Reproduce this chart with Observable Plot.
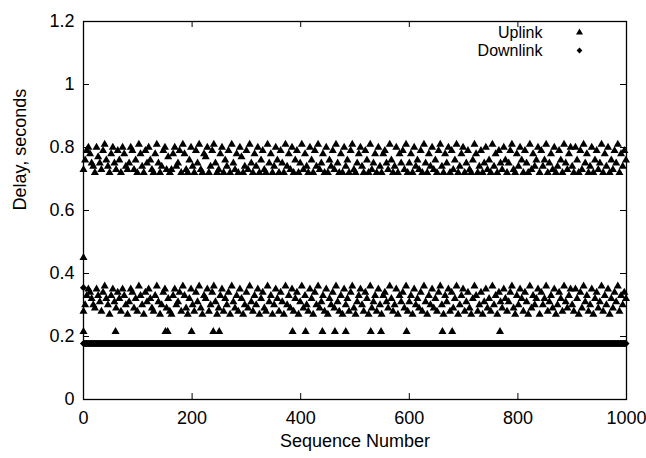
<!DOCTYPE html>
<html>
<head>
<meta charset="utf-8">
<script src="https://cdn.jsdelivr.net/npm/d3@7"></script>
<script src="https://cdn.jsdelivr.net/npm/@observablehq/plot@0.6"></script>
<style>
  html, body { margin: 0; padding: 0; background: #fff; }
  #chart svg { display: block; }
</style>
</head>
<body>
<div id="chart"></div>
<script>
// ---- tick values ----
const xTicks = [0, 200, 400, 600, 800, 1000];
const yTicks = [0, 0.2, 0.4, 0.6, 0.8, 1, 1.2];

// ---- Uplink: packets sampled every 3 sequence numbers, two delay bands ----
const uplinkStep = 3;
const uplinkLowDelay = [
  .28,.30,.33,.35,.34,.32,.30,.29,.35,.33,.31,.28,.34,.36,.32,.30,.27,.33,.35,.31,
  .29,.34,.32,.28,.35,.33,.30,.27,.31,.35,.34,.29,.32,.28,.36,.33,.30,.27,.34,.31,
  .35,.32,.29,.28,.33,.36,.31,.27,.30,.34,.35,.29,.32,.28,.27,.33,.35,.30,.31,.34,
  .28,.36,.33,.29,.27,.32,.35,.30,.28,.34,.31,.36,.29,.27,.33,.32,.35,.28,.30,.34,
  .36,.31,.27,.29,.33,.35,.28,.32,.30,.34,.27,.36,.31,.29,.33,.28,.35,.32,.27,.30,
  .34,.29,.36,.31,.28,.33,.30,.35,.27,.32,.34,.29,.28,.36,.31,.33,.27,.30,.35,.32,
  .28,.34,.31,.27,.36,.30,.33,.29,.35,.28,.32,.34,.27,.31,.36,.29,.33,.30,.28,.35,
  .32,.27,.34,.30,.36,.29,.31,.33,.28,.35,.27,.32,.30,.34,.29,.36,.31,.28,.33,.27,
  .35,.30,.32,.28,.34,.36,.29,.27,.31,.33,.35,.30,.28,.34,.32,.27,.36,.29,.31,.33,
  .28,.35,.30,.27,.33,.34,.31,.29,.36,.32,.28,.30,.35,.27,.33,.31,.34,.29,.36,.28,
  .31,.33,.27,.35,.30,.32,.29,.34,.28,.36,.31,.27,.33,.30,.35,.29,.32,.28,.34,.36,
  .30,.27,.33,.31,.35,.28,.34,.29,.32,.36,.27,.30,.33,.35,.28,.31,.34,.29,.27,.32,
  .36,.33,.28,.30,.34,.27,.31,.35,.29,.32,.28,.36,.30,.33,.27,.34,.31,.29,.35,.32,
  .28,.31,.34,.36,.29,.27,.33,.30,.35,.32,.28,.34,.31,.27,.36,.29,.33,.30,.32,.35,
  .27,.34,.30,.32,.36,.28,.31,.33,.29,.35,.27,.30,.34,.32,.28,.36,.31,.29,.33,.35,
  .30,.28,.35,.32,.27,.34,.29,.36,.31,.33,.28,.30,.35,.27,.32,.34,.29,.31,.36,.28,
  .33,.30,.35,.27,.32,.29,.34,.31,.36,.28,.33,.30,.34,.32
];
const uplinkHighDelay = [
  .73,.76,.79,.80,.78,.75,.74,.72,.80,.77,.75,.73,.79,.81,.76,.74,.72,.78,.80,.75,
  .73,.79,.76,.72,.80,.78,.74,.73,.75,.80,.79,.73,.76,.72,.81,.78,.74,.72,.79,.75,
  .80,.76,.73,.72,.78,.81,.75,.72,.74,.79,.80,.73,.77,.72,.73,.78,.80,.74,.75,.79,
  .72,.81,.78,.73,.72,.76,.80,.74,.72,.79,.75,.81,.73,.72,.78,.77,.80,.72,.74,.79,
  .81,.75,.72,.73,.78,.80,.72,.76,.74,.79,.72,.81,.75,.73,.78,.72,.80,.77,.72,.74,
  .79,.73,.81,.75,.72,.78,.74,.80,.72,.76,.79,.73,.72,.81,.75,.78,.72,.74,.80,.76,
  .72,.79,.75,.72,.81,.74,.78,.73,.80,.72,.76,.79,.72,.75,.81,.73,.78,.74,.72,.80,
  .76,.72,.79,.74,.81,.73,.75,.78,.72,.80,.72,.76,.74,.79,.73,.81,.75,.72,.78,.72,
  .80,.74,.76,.72,.79,.81,.73,.72,.75,.78,.80,.74,.72,.79,.76,.72,.81,.73,.75,.78,
  .72,.80,.74,.72,.78,.79,.75,.73,.81,.76,.72,.74,.80,.72,.78,.75,.79,.73,.81,.72,
  .75,.78,.72,.80,.74,.76,.73,.79,.72,.81,.75,.72,.78,.74,.80,.73,.76,.72,.79,.81,
  .74,.72,.78,.75,.80,.72,.79,.73,.76,.81,.72,.74,.78,.80,.72,.75,.79,.73,.72,.76,
  .81,.78,.72,.74,.79,.72,.75,.80,.73,.76,.72,.81,.74,.78,.72,.79,.75,.73,.80,.76,
  .72,.75,.79,.81,.73,.72,.78,.74,.80,.76,.72,.79,.75,.72,.81,.73,.78,.74,.76,.80,
  .72,.79,.74,.76,.81,.72,.75,.78,.73,.80,.72,.74,.79,.76,.72,.81,.75,.73,.78,.80,
  .74,.72,.80,.76,.72,.79,.73,.81,.75,.78,.72,.74,.80,.72,.76,.79,.73,.75,.81,.72,
  .78,.74,.80,.72,.76,.73,.79,.75,.81,.72,.78,.74,.79,.76
];
// isolated uplink packets below the main band, plus the first-packet spike
const uplinkOutlierSeq   = [0, 0, 59, 151, 155, 199, 239, 250, 385, 409, 440, 463, 483, 529, 548, 595, 661, 679, 767];
const uplinkOutlierDelay = [.45, .215, .215, .215, .215, .215, .215, .215, .215, .215, .215, .215, .215, .215, .215, .215, .215, .215, .215];

// ---- Downlink: constant delay for every sequence number, first packet higher ----
const downlinkFirstSeq = [0];
const downlinkFirstDelay = [0.355];
const downlinkDelay = 0.178;          // read as flat band at ~0.18 s
const downlinkLastSeq = 999;

// ---- legend ----
const legendLabels = ["Uplink", "Downlink"];
const legendSymbols = ["triangle", "diamond2"];

// build tables
const uplink = [
  ...uplinkLowDelay.map((d, i) => ({seq: i * uplinkStep, delay: d})),
  ...uplinkHighDelay.map((d, i) => ({seq: i * uplinkStep, delay: d})),
  ...uplinkOutlierSeq.map((s, i) => ({seq: s, delay: uplinkOutlierDelay[i]}))
];
const downlink = [
  ...downlinkFirstSeq.map((s, i) => ({seq: s, delay: downlinkFirstDelay[i]})),
  ...d3.range(0, downlinkLastSeq + 1).map(s => ({seq: s, delay: downlinkDelay}))
];

const W = 646, H = 458, mL = 83, mR = 20, mT = 21, mB = 59;
const plotW = W - mL - mR, plotH = H - mT - mB;
const tickLen = 6;
const font = "'Liberation Sans', Arial, Helvetica, sans-serif";

const chart = Plot.plot({
  width: W,
  height: H,
  marginLeft: mL,
  marginRight: mR,
  marginTop: mT,
  marginBottom: mB,
  style: {fontFamily: font, fontSize: "18px", color: "black", background: "white"},
  x: {domain: [0, 1000], label: null},
  y: {domain: [0, 1.2], label: null},
  marks: [
    // data
    Plot.dot(uplink, {x: "seq", y: "delay", symbol: "triangle", r: 3, fill: "black", stroke: "none"}),
    Plot.dot(downlink, {x: "seq", y: "delay", symbol: "diamond2", r: 3.2, fill: "black", stroke: "none"}),
    // inward ticks, mirrored on all sides
    Plot.tickX(xTicks, {x: d => d, insetTop: plotH - tickLen, stroke: "black", strokeWidth: 1}),
    Plot.tickX(xTicks, {x: d => d, insetBottom: plotH - tickLen, stroke: "black", strokeWidth: 1}),
    Plot.tickY(yTicks, {y: d => d, insetRight: plotW - tickLen, stroke: "black", strokeWidth: 1}),
    Plot.tickY(yTicks, {y: d => d, insetLeft: plotW - tickLen, stroke: "black", strokeWidth: 1}),
    // tick labels
    Plot.axisX(xTicks, {tickSize: 0, tickPadding: 12, tickFormat: d => String(d), label: null}),
    Plot.axisY(yTicks, {tickSize: 0, tickPadding: 9, tickFormat: d => String(d), label: null}),
    Plot.frame({stroke: "black", strokeWidth: 1.3}),
    // axis titles
    Plot.text(["Sequence Number"], {frameAnchor: "bottom", dy: 42, lineAnchor: "middle", fill: "black"}),
    Plot.text(["Delay, seconds"], {frameAnchor: "left", dx: -63, rotate: -90, lineAnchor: "middle", fill: "black"}),
    // legend (positioned relative to the top-right corner of the frame)
    Plot.text([legendLabels[0]], {frameAnchor: "top-right", dx: -84, dy: 11, textAnchor: "end", lineAnchor: "middle", fontSize: 16, fill: "black"}),
    Plot.text([legendLabels[1]], {frameAnchor: "top-right", dx: -84, dy: 29, textAnchor: "end", lineAnchor: "middle", fontSize: 16, fill: "black"}),
    Plot.dot([legendSymbols[0]], {frameAnchor: "top-right", dx: -47, dy: 11, symbol: d => d, r: 2.6, fill: "black", stroke: "none"}),
    Plot.dot([legendSymbols[1]], {frameAnchor: "top-right", dx: -47, dy: 29, symbol: d => d, r: 2.6, fill: "black", stroke: "none"})
  ]
});
document.getElementById("chart").appendChild(chart);
</script>
</body>
</html>
